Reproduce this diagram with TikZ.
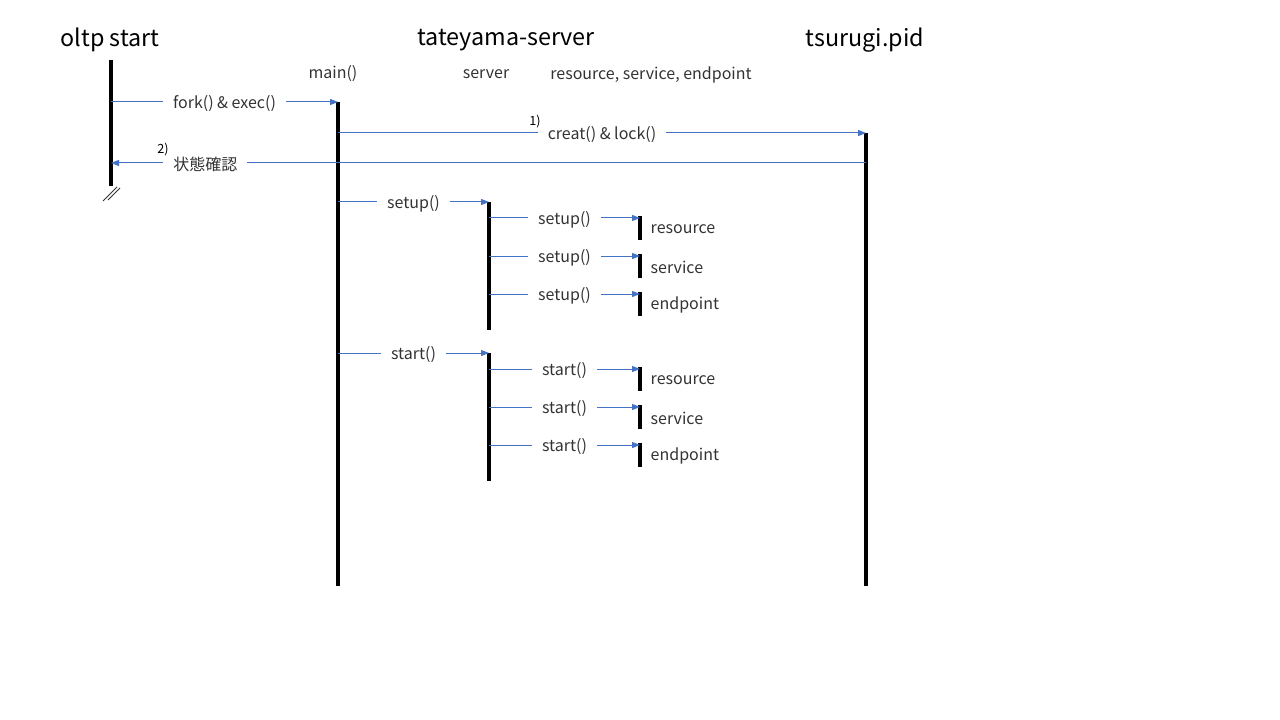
\documentclass[tikz,border=0pt]{standalone}
\usepackage{fontspec}
\setmainfont{Noto Sans CJK JP}
\usepackage{tikz}
\usetikzlibrary{positioning, arrows.meta, calc}
\usepackage{xcolor}
\definecolor{msgblue}{HTML}{4472C4}
\definecolor{labelgray}{HTML}{333333}

\tikzset{
  lifeline/.style={line width=3pt, black},
  msg/.style={draw=msgblue, line width=0.75pt, -{Triangle[length=6pt, width=4.5pt]}},
  msglabel/.style={fill=white, inner xsep=7.5pt, inner ysep=1pt, yshift=-1pt, text=labelgray,
    font=\fontsize{12}{14}\selectfont},
  headline/.style={font=\fontsize{17.5}{21}\selectfont},
  partname/.style={text=labelgray, font=\fontsize{12}{14}\selectfont},
  stepno/.style={inner sep=0pt, font=\fontsize{9.5}{11}\selectfont}
}

\begin{document}
\begin{tikzpicture}[x=0.75pt, y=-0.75pt]
  \useasboundingbox (0,0) rectangle (1280,720);
  % Headings
  \node[headline] (oltp) at (110,40) {oltp start};
  \node[headline] (tateyama) at (506,40) {tateyama-server};
  \node[headline] (tsurugi) at (865,40) {tsurugi.pid};
  \node[partname] (mainname) at (333,74) {main()};
  \node[partname] (servername) at (486,74) {server};
  \node[partname] (compname) at (651,75) {resource, service, endpoint};
  % Lifelines
  \coordinate (oltpTop) at (111,60);
  \coordinate (oltpEnd) at (111,186);
  \coordinate (mainTop) at (338,102);
  \coordinate (mainEnd) at (338,586);
  \coordinate (pidTop) at (866,133);
  \coordinate (pidEnd) at (866,586);
  \coordinate (check) at (866,163);
  \draw[lifeline] (oltpTop) -- (oltpEnd);
  \draw[lifeline] (mainTop) -- (mainEnd);
  \draw[lifeline] (pidTop) -- (pidEnd);
  % Break mark
  \draw[black!80, line width=0.6pt] (103,201) -- (117,187) (108,200) -- (120,188);
  % Server activations
  \coordinate (setupTop) at (489,202);
  \coordinate (setupEnd) at (489,330);
  \coordinate (startTop) at (489,353);
  \coordinate (startEnd) at (489,481);
  \draw[lifeline] (setupTop) -- (setupEnd);
  \draw[lifeline] (startTop) -- (startEnd);
  % Messages from oltp / main
  \draw[msg] (oltpTop |- mainTop) -- node[msglabel] (forklabel) {fork() \& exec()} (mainTop);
  \draw[msg] (mainTop |- pidTop) -- node[msglabel] (creatlabel) {creat() \& lock()} (pidTop);
  \node[stepno] (step1) at (535,122) {1)};
  \draw[msg] (check) -- node[msglabel, pos=0.875] (checklabel) {状態確認} (oltpTop |- check);
  \node[stepno] (step2) at (163,150) {2)};
  \draw[msg] (mainTop |- setupTop) -- node[msglabel] (setuplabel) {setup()} (setupTop);
  \draw[msg] (mainTop |- startTop) -- node[msglabel] (startlabel) {start()} (startTop);
  % Component calls
  \foreach \y/\call/\part [count=\i] in {218/setup/resource, 256/setup/service, 294/setup/endpoint,
                                          369/start/resource, 407/start/service, 445/start/endpoint} {
    \coordinate (comp\i) at (640,\y);
    \draw[lifeline] ($(comp\i)+(0,-2)$) -- ($(comp\i)+(0,22)$);
    \draw[msg] (setupTop |- comp\i) -- node[msglabel] (call\i) {\call()} (comp\i);
    \node[partname, anchor=west] (part\i) at ($(comp\i)+(6,11)$) {\part};
  }
\end{tikzpicture}
\end{document}
